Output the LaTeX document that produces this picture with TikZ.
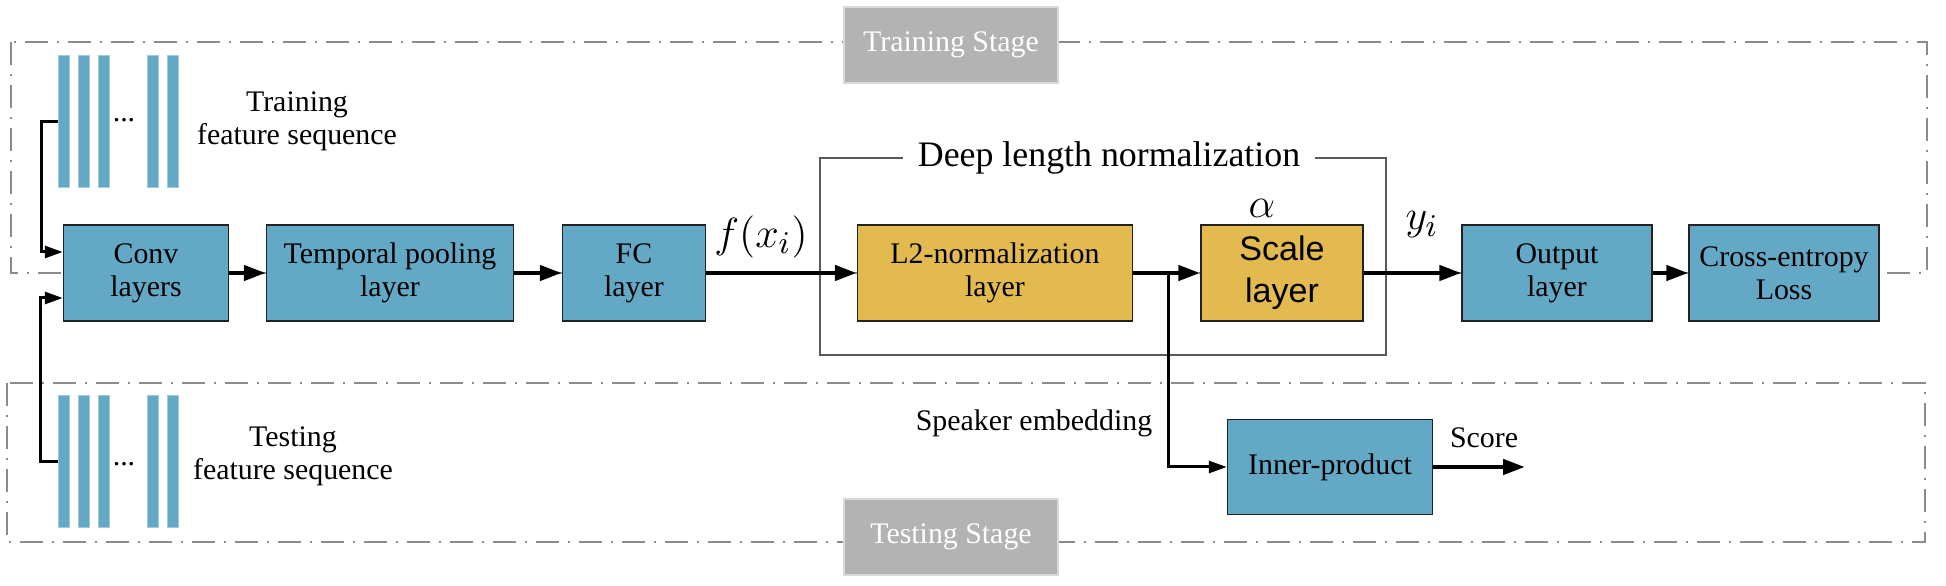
\documentclass[tikz,border=0pt]{standalone}
\usepackage{fontspec}
\setmainfont{Liberation Serif}
\newfontfamily\arialfont{Liberation Sans}
\usepackage{tikz}
\usepackage{xcolor}
\usetikzlibrary{arrows.meta, positioning}
\definecolor{boxblue}{HTML}{63A9C5}
\definecolor{boxgold}{HTML}{E2BA50}
\definecolor{stagegray}{HTML}{B3B3B3}
\definecolor{framegray}{HTML}{8C8C8C}
\definecolor{darkline}{HTML}{222222}

\begin{document}
\begin{tikzpicture}[x=0.1mm, y=-0.1mm,
            blk/.style={draw=darkline, line width=0.15mm, fill=boxblue, minimum height=9.6mm, inner sep=0pt, align=center, font=\fontsize{8.5}{9.4}\selectfont},
            gold/.style={blk, fill=boxgold},
            bar/.style={fill=boxblue, draw=boxblue!60, line width=0.1mm, minimum width=1.1mm, minimum height=13.2mm, inner sep=0pt},
            stage/.style={fill=stagegray, draw=stagegray!50, text=white, minimum width=21.4mm, minimum height=7.6mm, font=\fontsize{8.5}{9.4}\selectfont},
            stagebox/.style={draw=framegray, line width=0.15mm, dash pattern=on 2.3mm off 0.9mm on 0.2mm off 0.9mm},
            txt/.style={align=center, inner sep=0pt, font=\fontsize{8.5}{9.4}\selectfont},
            mth/.style={inner sep=0pt, font=\fontsize{12.8}{14}\selectfont},
            flow/.style={line width=0.45mm, -{Triangle[length=2.2mm, width=1.5mm]}},
            feed/.style={line width=0.3mm, -{Triangle[length=1.8mm, width=1.2mm]}}]
            \useasboundingbox (0,0) rectangle (1946,586);
            % Stages
            \draw[stagebox] (11,42) rectangle (1927,273);
            \draw[stagebox] (7,383) rectangle (1925,542);
            \node[stage] (train) at (951,45) {Training Stage};
            \node[stage] (test) at (951,537) {Testing Stage};
            % Feature sequences
            \foreach \x [count=\i] in {58,78,98,147,167} {
                \node[bar] (tr\i) at (\x+5.5,122) {};
                \node[bar] (te\i) at (\x+5.5,462) {};
            }
            \node[txt] (trdots) at (124,120) {...};
            \node[txt] (tedots) at (124,464) {...};
            \node[txt] (trlabel) at (297,121) {Training\\feature sequence};
            \node[txt] (telabel) at (293,456) {Testing\\feature sequence};
            % Deep length normalization
            \draw[draw=black!65, line width=0.15mm] (820,158) rectangle (1386,355);
            \node[fill=white, inner xsep=1.5mm, inner ysep=0.5mm, font=\fontsize{10.2}{12}\selectfont] (dln) at (1109,158) {Deep length normalization};
            % Blocks
            \node[blk, minimum width=16.5mm] (conv) at (146,273) {Conv\\layers};
            \node[blk, minimum width=24.7mm] (pool) at (390,273) {Temporal pooling\\layer};
            \node[blk, minimum width=14.3mm] (fc) at (634,273) {FC\\layer};
            \node[gold, minimum width=27.5mm] (l2) at (995,273) {L2-normalization\\layer};
            \node[gold, minimum width=16.2mm, font=\arialfont\fontsize{9.7}{11.9}\selectfont] (scale) at (1282,273) {Scale\\layer};
            \node[blk, minimum width=19mm] (out) at (1557,273) {Output\\layer};
            \node[blk, minimum width=19mm] (ce) at (1784,273) {Cross-entropy\\Loss};
            \node[blk, minimum width=20.5mm, minimum height=9.5mm] (ip) at (1330,467) {Inner-product};
            % Labels
            \node[mth] (fx) at (761,237) {$f(x_i)$};
            \node[mth] (alpha) at (1262,208) {$\alpha$};
            \node[mth] (yi) at (1422,225) {$y_i$};
            \node[txt] (emb) at (1034,423) {Speaker embedding};
            \node[txt] (scorelbl) at (1484,438) {Score};
            % Arrows
            \draw[feed] (tr1.west) -- ++(-16,0) |- ([yshift=2.1mm]conv.west);
            \draw[feed] (te1.west) -- ++(-17,0) |- ([yshift=-2.5mm]conv.west);
            \draw[flow] (conv) -- (pool);
            \draw[flow] (pool) -- (fc);
            \draw[flow] (fc) -- (l2);
            \draw[flow] (l2) -- (scale);
            \draw[flow] (scale) -- (out);
            \draw[flow] (out) -- (ce);
            \coordinate (branch) at (1168,273);
            \coordinate (score) at (1525,467);
            \draw[feed] (branch) |- (ip.west);
            \draw[flow] (ip.east) -- (score);
        \end{tikzpicture}
\end{document}
